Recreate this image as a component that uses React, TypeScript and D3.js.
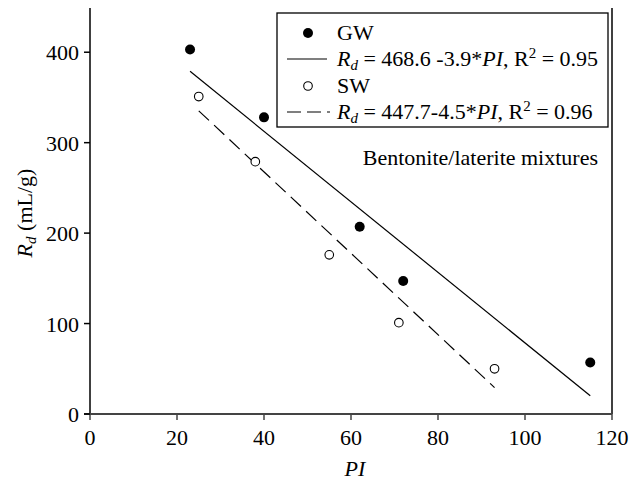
import React from "react";
import * as d3 from "d3";

const gwPI = [23, 40, 62, 72, 115];
const gwRd = [403, 328, 207, 147, 57];
const swPI = [25, 38, 55, 71, 93];
const swRd = [351, 279, 176, 101, 50];
const gwFit = { a: 468.6, b: -3.9, x0: 23, x1: 115 };
const swFit = { a: 447.7, b: -4.5, x0: 25, x1: 93 };
const xTicks = [0, 20, 40, 60, 80, 100, 120];
const yTicks = [0, 100, 200, 300, 400];

const W = 642, H = 484;
const L = 90, R = 612, T = 7, B = 414;
const FONT = "Liberation Serif, Times New Roman, Times, DejaVu Serif, serif";
const FS = 22;

export default function App() {
  const x = d3.scaleLinear().domain([0, 120]).range([L, R]);
  const y = d3.scaleLinear().domain([0, 450]).range([B, T]);
  const fitPath = (f: typeof gwFit) =>
    d3.line<number>().x((d) => x(d)).y((d) => y(f.a + f.b * d))([f.x0, f.x1]) || "";
  const lx = 277, ly = 13, lw = 331, lh = 114;
  const rows = [33, 59, 86, 112];
  const txtX = 337;
  const symX = 308;
  const sub = 15;
  return (
    <div style={{ margin: -8 }}>
      <svg width={W} height={H} style={{ display: "block" }} fontFamily={FONT}>
        <rect width={W} height={H} fill="#fff" />
        <line x1={L} x2={R} y1={T} y2={T} stroke="#000" strokeWidth={1.5} />
        <line x1={R} x2={R} y1={T} y2={B} stroke="#000" strokeWidth={1.5} />
        <line x1={L} x2={L} y1={T} y2={B} stroke="#000" strokeWidth={1.5} />
        <line x1={L - 6} x2={R} y1={B} y2={B} stroke="#444" strokeWidth={2} />
        {xTicks.map((t) => (
          <g key={"x" + t}>
            <line x1={x(t)} x2={x(t)} y1={B} y2={B + 6} stroke="#444" strokeWidth={1.5} />
            <text x={x(t)} y={B + 31} fontSize={FS} textAnchor="middle" fontFamily={FONT}>{t}</text>
          </g>
        ))}
        {yTicks.map((t) => (
          <g key={"y" + t}>
            <line x1={L - 6} x2={L} y1={y(t)} y2={y(t)} stroke="#000" strokeWidth={1.5} />
            <text x={L - 11} y={y(t) + 8} fontSize={FS} textAnchor="end" fontFamily={FONT}>{t}</text>
          </g>
        ))}
        <text x={355} y={476} fontSize={FS} fontStyle="italic" textAnchor="middle" fontFamily={FONT}>PI</text>
        <text transform={`translate(32,${213}) rotate(-90)`} fontSize={FS} textAnchor="middle" fontFamily={FONT}>
          <tspan fontStyle="italic">R</tspan>
          <tspan fontStyle="italic" fontSize={sub} dy={4}>d</tspan>
          <tspan dy={-4}> (mL/g)</tspan>
        </text>
        <path d={fitPath(gwFit)} stroke="#000" strokeWidth={1.2} fill="none" />
        <path d={fitPath(swFit)} stroke="#000" strokeWidth={1.2} fill="none" strokeDasharray="14,7" />
        {gwPI.map((p, i) => (
          <circle key={"g" + i} cx={x(p)} cy={y(gwRd[i])} r={5} fill="#000" />
        ))}
        {swPI.map((p, i) => (
          <circle key={"s" + i} cx={x(p)} cy={y(swRd[i])} r={4.3} fill="#fff" stroke="#000" strokeWidth={1.1} />
        ))}
        <text x={598} y={165} fontSize={FS} textAnchor="end" fontFamily={FONT}>Bentonite/laterite mixtures</text>
        <rect x={lx} y={ly} width={lw} height={lh} fill="#fff" stroke="#000" strokeWidth={1.3} />
        <circle cx={symX} cy={rows[0]} r={5} fill="#000" />
        <text x={txtX} y={rows[0] + 7} fontSize={FS} fontFamily={FONT}>GW</text>
        <line x1={287} x2={327} y1={rows[1]} y2={rows[1]} stroke="#000" strokeWidth={1.2} />
        <text x={txtX} y={rows[1] + 7} fontSize={FS} fontFamily={FONT}>
          <tspan fontStyle="italic">R</tspan>
          <tspan fontStyle="italic" fontSize={sub} dy={4}>d</tspan>
          <tspan dy={-4}> = 468.6 -3.9*</tspan>
          <tspan fontStyle="italic">PI</tspan>
          <tspan>, R</tspan>
          <tspan fontSize={sub} dy={-8}>2</tspan>
          <tspan dy={8}> = 0.95</tspan>
        </text>
        <circle cx={symX} cy={rows[2]} r={4.3} fill="#fff" stroke="#000" strokeWidth={1.1} />
        <text x={txtX} y={rows[2] + 7} fontSize={FS} fontFamily={FONT}>SW</text>
        <line x1={287} x2={330} y1={rows[3]} y2={rows[3]} stroke="#000" strokeWidth={1.2} strokeDasharray="14,6" />
        <text x={txtX} y={rows[3] + 7} fontSize={FS} fontFamily={FONT}>
          <tspan fontStyle="italic">R</tspan>
          <tspan fontStyle="italic" fontSize={sub} dy={4}>d</tspan>
          <tspan dy={-4}> = 447.7-4.5*</tspan>
          <tspan fontStyle="italic">PI</tspan>
          <tspan>, R</tspan>
          <tspan fontSize={sub} dy={-8}>2</tspan>
          <tspan dy={8}> = 0.96</tspan>
        </text>
      </svg>
    </div>
  );
}
